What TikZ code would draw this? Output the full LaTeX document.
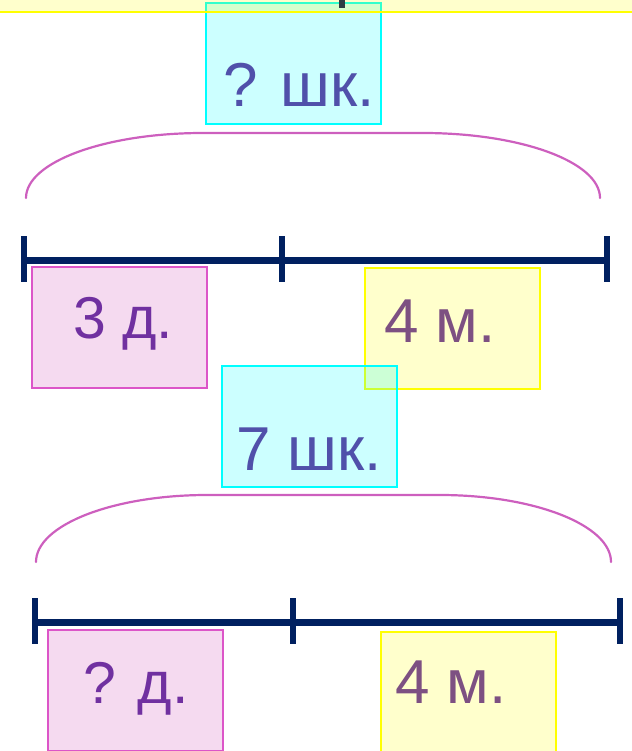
\documentclass[tikz,border=0pt]{standalone}
\usepackage{fontspec}
\setmainfont{Liberation Sans}
\usetikzlibrary{calc}
\definecolor{lineblue}{RGB}{0,32,96}
\definecolor{tickgrey}{RGB}{45,62,66}
\definecolor{bracepink}{RGB}{205,95,190}
\definecolor{boxcyan}{RGB}{0,255,255}
\definecolor{boxyellow}{RGB}{255,255,0}
\definecolor{pinkedge}{RGB}{220,85,200}
\definecolor{pinkfill}{RGB}{205,70,180}
\definecolor{pinktext}{RGB}{112,48,160}
\definecolor{yellowtext}{RGB}{125,80,130}
\definecolor{cyantext}{RGB}{80,80,170}
\tikzset{
    segline/.style={draw=lineblue, line width=7pt},
    segtick/.style={draw=lineblue, line width=6pt},
    brace/.style={draw=bracepink, line width=2.2pt, line cap=round},
    box/.style={line width=2pt, fill opacity=0.2, anchor=north west, minimum width=175pt, minimum height=121pt, inner sep=0pt},
    cyanbox/.style={box, draw=boxcyan, fill=boxcyan},
    yellowbox/.style={box, draw=boxyellow, fill=boxyellow},
    pinkbox/.style={box, draw=pinkedge, fill=pinkfill},
    boxtext/.style={anchor=base west, inner sep=0pt, font=\fontsize{62}{68}\selectfont},
    pinktxt/.style={boxtext, text=pinktext, font=\fontsize{59}{65}\selectfont},
}
\begin{document}
\begin{tikzpicture}[x=1pt, y=-1pt]
    \useasboundingbox (0,0) rectangle (631,751);
    \newcommand\rowA{260}
    \newcommand\rowB{622}

    % segments
    \coordinate (a0) at (24, \rowA);
    \coordinate (a1) at (282, \rowA);
    \coordinate (a2) at (607, \rowA);
    \coordinate (b0) at (35, \rowB);
    \coordinate (b1) at (293, \rowB);
    \coordinate (b2) at (620, \rowB);
    \draw[segline] (a0) -- (a2);
    \draw[segline] (b0) -- (b2);
    \foreach \t in {a0, a1, a2, b0, b1, b2}
        \draw[segtick] ($(\t)+(0,-24)$) -- ($(\t)+(0,22)$);

    % braces
    \coordinate (braceAL) at (26, 198);
    \coordinate (braceAR) at (600, 198);
    \coordinate (topAL) at (203, 133);
    \coordinate (topAR) at (423, 133);
    \draw[brace] (braceAL) .. controls +(0,-36) and +(-98,0) .. (topAL) -- (topAR) .. controls +(98,0) and +(0,-36) .. (braceAR);
    \coordinate (braceBL) at (36, 562);
    \coordinate (braceBR) at (611, 562);
    \coordinate (topBL) at (207, 495);
    \coordinate (topBR) at (440, 495);
    \draw[brace] (braceBL) .. controls +(0,-37) and +(-94,0) .. (topBL) -- (topBR) .. controls +(94,0) and +(0,-37) .. (braceBR);

    % cut off at the top
    \node[cyanbox] (qShk) at (205,2) {};
    \node[yellowbox, minimum width=650pt, minimum height=40pt] (topStrip) at (-10,-29) {};
    \draw[segtick, draw=tickgrey] (342,-20) -- (342,8);

    \node[pinkbox] (dA) at (31,266) {};
    \node[yellowbox] (mA) at (364,267) {};
    \node[cyanbox] (shkB) at (221,365) {};
    \node[pinkbox] (dB) at (47,629) {};
    \node[yellowbox] (mB) at (380,631) {};

    \node[boxtext, text=cyantext] (qShkTxt) at (223,107) {? шк.};
    \node[pinktxt] (dATxt) at (73,338) {3 д.};
    \node[boxtext, text=yellowtext] (mATxt) at (384,342) {4 м.};
    \node[boxtext, text=cyantext] (shkBTxt) at (236,470) {7 шк.};
    \node[pinktxt] (dBTxt) at (83,703) {? д.};
    \node[boxtext, text=yellowtext] (mBTxt) at (395,703) {4 м.};
\end{tikzpicture}
\end{document}
